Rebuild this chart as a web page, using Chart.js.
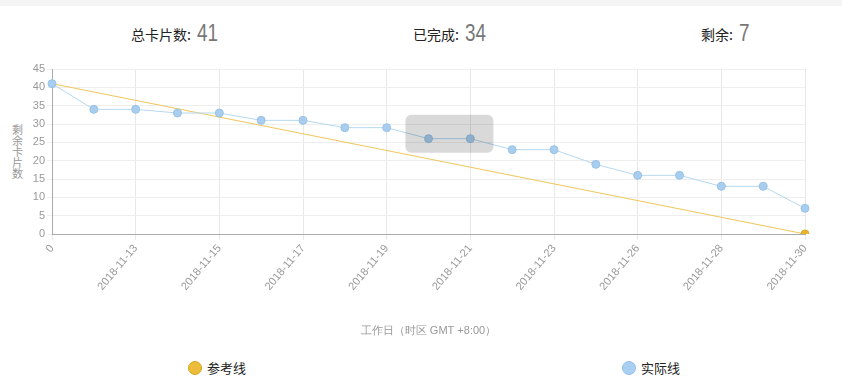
<!DOCTYPE html>
<html>
<head>
<meta charset="utf-8">
<script src="https://cdn.jsdelivr.net/npm/chart.js@4.4.0/dist/chart.umd.min.js"></script>
<style>
  body { margin: 0; width: 842px; height: 385px; position: relative; background: #fff; overflow: hidden;
         font-family: "Noto Sans CJK SC", "Microsoft YaHei", sans-serif; }
  .topbar { position: absolute; left: 0; top: 0; width: 842px; height: 6px; background: #f4f4f4; }
  .stat { position: absolute; top: 18px; height: 30px; line-height: 30px; font-size: 14px; color: #222; white-space: nowrap; }
  .stat b { display: inline-block; font-weight: normal; font-family: "Liberation Sans", Arial, sans-serif;
            font-size: 23px; color: #777; margin-left: 6px; transform: scaleX(0.82); transform-origin: left center;
            vertical-align: -1px; }
  .ytitle { position: absolute; left: 12px; top: 124px; width: 11px; font-size: 11px; line-height: 11px; color: #999; }
  .ytitle span { display: block; }
  #wrap { position: absolute; left: 0; top: 60px; width: 842px; height: 282px; }
  .legend { position: absolute; top: 359px; font-size: 13px; color: #222; white-space: nowrap; line-height: 18px; }
  .legend i { display: inline-block; width: 12px; height: 12px; border-radius: 50%; vertical-align: -2px; margin-right: 5px; }
</style>
</head>
<body>
<div class="topbar"></div>
<div class="stat" style="left:131px">总卡片数:<b>41</b></div>
<div class="stat" style="left:413px">已完成:<b>34</b></div>
<div class="stat" style="left:701px">剩余:<b>7</b></div>
<div class="ytitle"><span>剩</span><span>余</span><span>卡</span><span>片</span><span>数</span></div>
<div id="wrap"><canvas id="chart"></canvas></div>
<div class="legend" style="left:188px"><i style="background:#ecbd3a;border:1px solid #d9a520"></i>参考线</div>
<div class="legend" style="left:622px"><i style="background:#a9d0f2;border:1px solid #94bfe6"></i>实际线</div>
<script>
const labels = ['0', '2018-11-12', '2018-11-13', '2018-11-14', '2018-11-15', '2018-11-16', '2018-11-17',
    '2018-11-18', '2018-11-19', '2018-11-20', '2018-11-21', '2018-11-22', '2018-11-23', '2018-11-24',
    '2018-11-26', '2018-11-27', '2018-11-28', '2018-11-29', '2018-11-30'];
const actual = [41, 34, 34, 33, 33, 31, 31, 29, 29, 26, 26, 23, 23, 19, 16, 16, 13, 13, 7];
const reference = [41, null, null, null, null, null, null, null, null, null, null, null, null, null, null, null, null, null, 0];

// grey hover box left over from the screenshot
const hoverBox = {
    id: 'hoverBox',
    afterDatasetsDraw(chart) {
        const x = chart.scales.x, y = chart.scales.y;
        const cx = (x.getPixelForValue(9) + x.getPixelForValue(10)) / 2;
        const top = y.getPixelForValue(actual[9]) - 24;
        const c = chart.ctx;
        c.save();
        c.fillStyle = 'rgba(0,0,0,0.15)';
        c.beginPath();
        c.roundRect(cx - 44, top, 88, 38, 6);
        c.fill();
        c.restore();
    }
};

const tickFont = { family: 'Arial, "Liberation Sans", sans-serif', size: 11 };

new Chart(document.getElementById('chart'), {
    type: 'line',
    data: {
        labels,
        datasets: [{
            label: '实际线',
            data: actual,
            borderColor: '#b5d8f0',
            backgroundColor: '#a9cdee',
            pointBorderColor: '#98c2e6',
            pointBackgroundColor: '#a9cdee',
            borderWidth: 1,
            pointRadius: 4,
            pointBorderWidth: 1,
            tension: 0,
            fill: false,
        }, {
            label: '参考线',
            data: reference,
            spanGaps: true,
            borderColor: '#efc65a',
            backgroundColor: '#e8b52e',
            pointBorderColor: '#dca828',
            pointBackgroundColor: '#e8b52e',
            borderWidth: 1,
            pointRadius: [0, 0, 0, 0, 0, 0, 0, 0, 0, 0, 0, 0, 0, 0, 0, 0, 0, 0, 4],
            tension: 0,
            fill: false,
        }],
    },
    options: {
        responsive: true,
        maintainAspectRatio: false,
        animation: false,
        layout: { padding: { left: 0, right: 37, top: 9, bottom: 4 } },
        plugins: { legend: { display: false }, tooltip: { enabled: false } },
        scales: {
            x: {
                grid: { color: '#e8e8e8', tickLength: 6 },
                border: { color: '#aaa' },
                ticks: {
                    color: '#999', font: tickFont, autoSkip: false, minRotation: 50, maxRotation: 50, padding: 2,
                    callback: (v, i) => (i % 2 === 0 ? labels[i] : null),
                },
                title: { display: true, text: '工作日（时区 GMT +8:00）', color: '#999', font: { size: 11 }, padding: { top: 0, bottom: 0 } },
                afterFit: s => { s.height = 104; },
            },
            y: {
                min: 0, max: 45,
                grid: { color: '#eeeeee', tickLength: 5 },
                border: { color: '#aaa' },
                ticks: { stepSize: 5, color: '#999', font: tickFont, padding: 2 },
                afterFit: s => { s.width = 52; },
            },
        },
    },
    plugins: [hoverBox],
});
</script>
</body>
</html>
